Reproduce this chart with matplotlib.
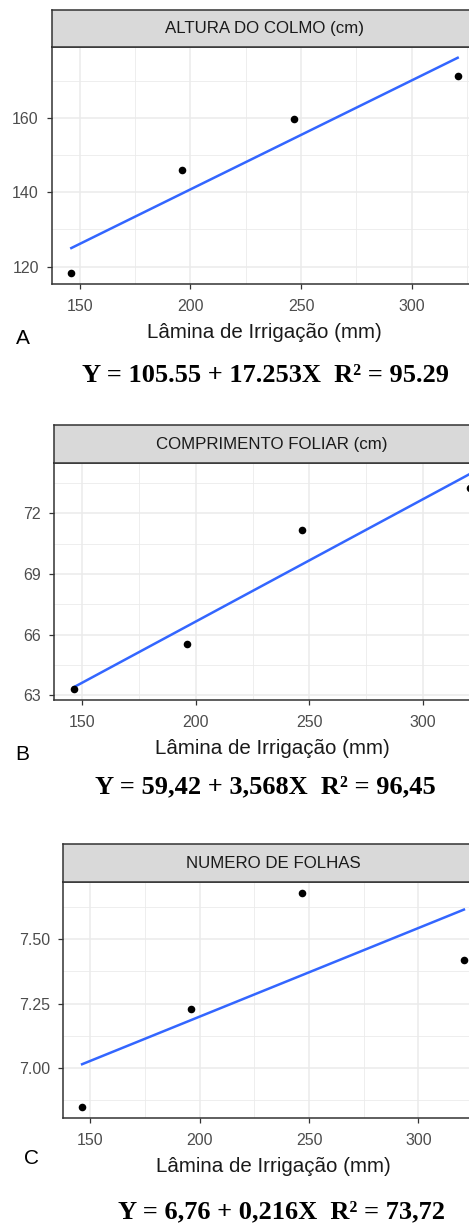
import numpy as np
import matplotlib
matplotlib.use("Agg")
import matplotlib.pyplot as plt
from matplotlib.ticker import FixedLocator, FormatStrFormatter

plt.rcParams["font.family"] = ["Liberation Sans", "DejaVu Sans"]

W, H = 469, 1225

# irrigation depth (mm) applied in each treatment
LAMINA = [146.2, 196.1, 246.7, 320.8]

ALTURA = [118.2, 146.1, 159.7, 171.5]
COMPRIMENTO = [63.3, 65.55, 71.17, 73.23]
FOLHAS = [6.848, 7.23, 7.68, 7.418]

TITLES = ["ALTURA DO COLMO (cm)", "COMPRIMENTO FOLIAR (cm)", "NUMERO DE FOLHAS"]
LETTERS = ["A", "B", "C"]
EQUATIONS = [
    "Y = 105.55 + 17.253X  R\u00b2 = 95.29",
    "Y = 59,42 + 3,568X  R\u00b2 = 96,45",
    "Y = 6,76 + 0,216X  R\u00b2 = 73,72",
]

X_MAJOR = [150, 200, 250, 300]
X_MINOR = [125, 175, 225, 275, 325]
Y_MAJOR = [[120, 140, 160], [63, 66, 69, 72], [7.00, 7.25, 7.50]]
Y_MINOR = [[110, 130, 150, 170], [64.5, 67.5, 70.5, 73.5],
           [6.875, 7.125, 7.375, 7.625]]
Y_FMT = ["%d", "%d", "%.2f"]

# panel boxes in pixels: left, right, strip top, panel top, panel bottom
BOXES = [
    (52, 477, 10, 47, 284),
    (54, 490, 425, 463, 700),
    (63, 483, 844, 882, 1118),
]
LETTER_XY = [(23, 338), (22, 754), (31, 1158)]
EQ_XY = [(265, 375), (265, 787), (281, 1212)]

GRID = "#EBEBEB"
FRAME = "#333333"


def expand(lo, hi, frac=0.05):
    pad = (hi - lo) * frac
    return lo - pad, hi + pad


fig = plt.figure(figsize=(W / 100, H / 100), dpi=100)

for i, yvals in enumerate([ALTURA, COMPRIMENTO, FOLHAS]):
    left, right, s_top, p_top, p_bot = BOXES[i]
    ax = fig.add_axes([left / W, 1 - p_bot / H, (right - left) / W,
                       (p_bot - p_top) / H])
    strip = fig.add_axes([left / W, 1 - p_top / H, (right - left) / W,
                          (p_top - s_top) / H])

    x = np.array(LAMINA)
    y = np.array(yvals)
    slope, icpt = np.polyfit(x, y, 1)
    xs = np.linspace(x.min(), x.max(), 80)
    ys = icpt + slope * xs

    ax.plot(xs, ys, color="#3366FF", lw=1.8, zorder=3)
    ax.scatter(x, y, s=30, color="black", zorder=4, linewidths=0)

    ax.set_xlim(*expand(x.min(), x.max()))
    ax.set_ylim(*expand(min(y.min(), ys.min()), max(y.max(), ys.max())))

    ax.xaxis.set_major_locator(FixedLocator(X_MAJOR))
    ax.xaxis.set_minor_locator(FixedLocator(X_MINOR))
    ax.yaxis.set_major_locator(FixedLocator(Y_MAJOR[i]))
    ax.yaxis.set_minor_locator(FixedLocator(Y_MINOR[i]))
    ax.yaxis.set_major_formatter(FormatStrFormatter(Y_FMT[i]))
    ax.grid(True, which="major", color=GRID, lw=1.1, zorder=0)
    ax.grid(True, which="minor", color=GRID, lw=0.6, zorder=0)
    ax.set_axisbelow(True)
    ax.tick_params(which="major", direction="out", length=3.5, width=0.9,
                   color=FRAME, labelcolor="#4D4D4D", labelsize=11.5)
    ax.tick_params(axis="x", which="major", pad=7)
    ax.tick_params(axis="y", which="major", pad=6)
    ax.tick_params(which="minor", length=0)
    for sp in ax.spines.values():
        sp.set_color(FRAME)
        sp.set_linewidth(1.1)
    ax.set_xlabel("Lâmina de Irrigação (mm)", fontsize=14.8,
                  color="#1A1A1A", labelpad=7)

    strip.set_facecolor("#D9D9D9")
    strip.set_xticks([])
    strip.set_yticks([])
    for sp in strip.spines.values():
        sp.set_color(FRAME)
        sp.set_linewidth(1.1)
    strip.text(0.5, 0.5, TITLES[i], transform=strip.transAxes, ha="center",
               va="center", fontsize=12.2, color="#1A1A1A")

    lx, ly = LETTER_XY[i]
    fig.text(lx / W, 1 - ly / H, LETTERS[i], ha="center", va="center",
             fontsize=15, color="black")
    ex, ey = EQ_XY[i]
    fig.text(ex / W, 1 - ey / H, EQUATIONS[i], ha="center", va="center",
             fontsize=19, fontweight="bold", color="black",
             family=["Liberation Serif", "DejaVu Serif"])

fig.savefig("out.png", dpi=100)
